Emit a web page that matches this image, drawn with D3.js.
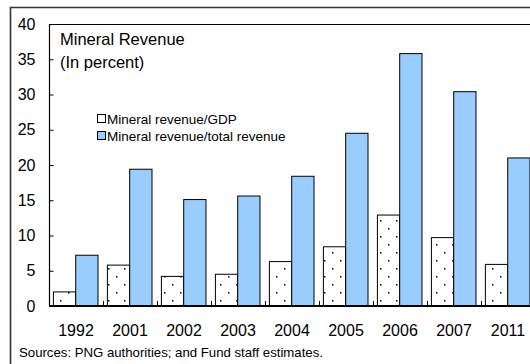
<!DOCTYPE html>
<html>
<head>
<meta charset="utf-8">
<script src="https://cdn.jsdelivr.net/npm/d3@7/dist/d3.min.js"></script>
<style>
  html, body { margin: 0; padding: 0; background: #fff; }
  svg { display: block; font-family: "Liberation Sans", Arial, sans-serif; }
</style>
</head>
<body>
<svg id="chart" width="530" height="364"></svg>
<script>
// Mineral revenue, in percent
const years = ["1992", "2001", "2002", "2003", "2004", "2005", "2006", "2007", "2011"];
const revenueToGdp = [2.0, 5.8, 4.2, 4.5, 6.3, 8.4, 12.9, 9.7, 5.9];
const revenueToTotal = [7.2, 19.4, 15.1, 15.6, 18.4, 24.5, 35.8, 30.4, 21.0];
const seriesNames = ["Mineral revenue/GDP", "Mineral revenue/total revenue"];
const yTicks = [0, 5, 10, 15, 20, 25, 30, 35, 40];

const svg = d3.select("#chart");
const W = 530, H = 364;
const plot = { left: 49, top: 24, bottom: 306, band: 54 };
const plotRight = plot.left + plot.band * years.length;

// dotted fill for the GDP series
const defs = svg.append("defs");
const pat = defs.append("pattern")
  .attr("id", "dots")
  .attr("patternUnits", "userSpaceOnUse")
  .attr("width", 16).attr("height", 16)
  .attr("x", 2).attr("y", 2);
pat.append("rect").attr("width", 16).attr("height", 16).attr("fill", "#fff");
pat.append("rect").attr("x", 2).attr("y", 2).attr("width", 1.6).attr("height", 1.6).attr("fill", "#222");
pat.append("rect").attr("x", 10).attr("y", 10).attr("width", 1.6).attr("height", 1.6).attr("fill", "#222");

// outer frame
svg.append("path")
  .attr("d", `M10.5,${H} V7.5 H${W}`)
  .attr("fill", "none").attr("stroke", "#333").attr("stroke-width", 1.6);

const x = d3.scaleBand().domain(years).range([plot.left, plotRight]).padding(0);
const inner = d3.scaleBand().domain(seriesNames).range([4.4, 49]).padding(0);
const y = d3.scaleLinear().domain([0, 40]).range([plot.bottom, plot.top]);

const fills = ["url(#dots)", "#99CCFF"];
const series = [revenueToGdp, revenueToTotal];

const plotG = svg.append("g");

// bars
series.forEach((vals, si) => {
  plotG.selectAll(null)
    .data(years.map((yr, i) => ({ yr, v: vals[i] })))
    .join("rect")
    .attr("x", d => x(d.yr) + inner(seriesNames[si]))
    .attr("y", d => y(d.v))
    .attr("width", inner.bandwidth())
    .attr("height", d => y(0) - y(d.v))
    .attr("fill", fills[si])
    .attr("stroke", "#000")
    .attr("stroke-width", 1);
});

// plot border: left and top
svg.append("path")
  .attr("d", `M${plot.left + 0.5},${plot.bottom} V${plot.top + 0.5} H${W}`)
  .attr("fill", "none").attr("stroke", "#000").attr("stroke-width", 1.2);

// y axis with inward ticks
const yAxis = d3.axisLeft(y).tickValues(yTicks).tickSizeInner(-4).tickSizeOuter(0).tickPadding(14);
const yg = svg.append("g").attr("transform", `translate(${plot.left + 0.5},0)`).call(yAxis);
yg.select(".domain").remove();
yg.selectAll("line").attr("stroke", "#000");
yg.selectAll("text").attr("font-size", 16).attr("fill", "#000")
  .attr("font-family", "Liberation Sans, Arial, sans-serif");

// x axis: labels centred under each category
const xAxis = d3.axisBottom(x).tickSize(0).tickPadding(19);
const xg = svg.append("g").attr("transform", `translate(0,${plot.bottom})`).call(xAxis);
xg.select(".domain").remove();
xg.selectAll("text").attr("font-size", 16).attr("fill", "#000")
  .attr("font-family", "Liberation Sans, Arial, sans-serif");

// category separator ticks along the baseline
const seps = years.map(d => x(d));
svg.append("g").selectAll("line")
  .data(seps)
  .join("line")
  .attr("x1", d => d + 0.5).attr("x2", d => d + 0.5)
  .attr("y1", plot.bottom).attr("y2", plot.bottom - 5)
  .attr("stroke", "#000");

// baseline
svg.append("line")
  .attr("x1", plot.left).attr("x2", W)
  .attr("y1", y(0)).attr("y2", y(0))
  .attr("stroke", "#000").attr("stroke-width", 2);

// title
const title = svg.append("text").attr("x", 60).attr("font-size", 16.5).attr("fill", "#000");
title.append("tspan").attr("x", 60).attr("y", 45).text("Mineral Revenue");
title.append("tspan").attr("x", 60).attr("y", 68).text("(In percent)");

// legend
const legend = svg.append("g").attr("transform", "translate(97,0)");
const legendRows = [119, 136];
seriesNames.forEach((name, i) => {
  const g = legend.append("g").attr("transform", `translate(0,${legendRows[i]})`);
  g.append("rect").attr("x", 0.5).attr("y", -4.5).attr("width", 8).attr("height", 8)
    .attr("fill", i === 0 ? "#fff" : "#99CCFF").attr("stroke", "#000").attr("stroke-width", 1);
  g.append("text").attr("x", 10).attr("y", 0).attr("dy", "0.35em")
    .attr("font-size", 13.5).attr("fill", "#000").text(name);
});

// source note
svg.append("text").attr("x", 19).attr("y", 357).attr("font-size", 13.2).attr("fill", "#000")
  .text("Sources: PNG authorities; and Fund staff estimates.");
</script>
</body>
</html>
